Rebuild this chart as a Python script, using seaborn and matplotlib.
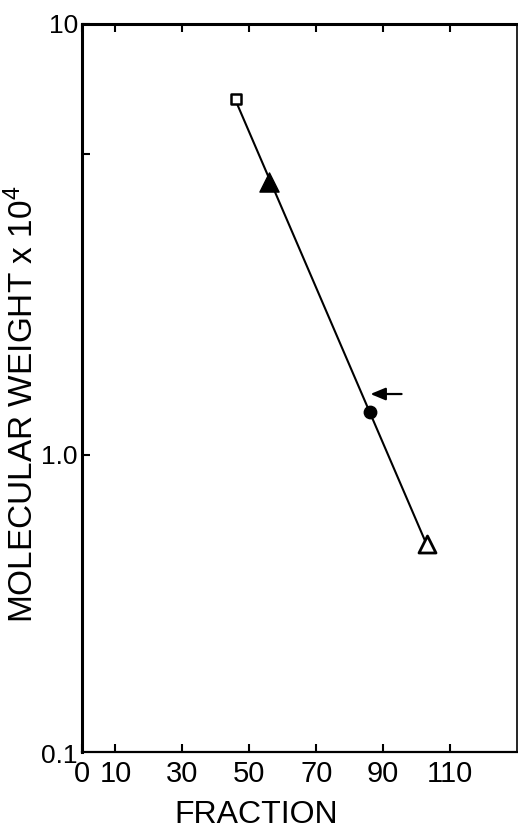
import numpy as np
import pandas as pd
import matplotlib
matplotlib.use("Agg")
import matplotlib.pyplot as plt
import seaborn as sns

# Elution fraction vs. molecular weight of the marker proteins
fraction = [46, 56, 86, 103]
mol_weight = [6.7, 4.3, 1.26, 0.62]          # x 10^4
marker_kind = ["open square", "filled triangle", "filled circle", "open triangle"]

x_ticks = [0, 10, 30, 50, 70, 90, 110]
y_ticks = [10, 5, 1.0]
y_tick_labels = ["10", "", "1.0"]

arrow_at = (86.2, 1.385)     # points to the unknown's elution position
arrow_from = (95.5, 1.385)

sns.set_style("ticks")
plt.rcParams["font.family"] = ["Liberation Sans", "DejaVu Sans"]
plt.rcParams["mathtext.fontset"] = "custom"
plt.rcParams["mathtext.rm"] = "Liberation Sans"
plt.rcParams["mathtext.it"] = "Liberation Sans"
for key in ["text.color", "axes.labelcolor", "xtick.color", "ytick.color",
            "xtick.labelcolor", "ytick.labelcolor"]:
    plt.rcParams[key] = "black"

df = pd.DataFrame({"fraction": fraction, "mw": mol_weight, "kind": marker_kind})

fig = plt.figure(figsize=(5.18, 8.30), dpi=100)
ax = fig.add_axes([0.1583, 0.0940, 0.8398, 0.8771])
ax.set_yscale("log")

# least-squares calibration line in log space
slope, intercept = np.polyfit(df["fraction"], np.log10(df["mw"]), 1)
xl = np.array([min(fraction), max(fraction)])
line_df = pd.DataFrame({"fraction": xl, "mw": 10 ** (intercept + slope * xl)})
sns.lineplot(data=line_df, x="fraction", y="mw", ax=ax, color="black",
             linewidth=1.5, zorder=2)

styles = {
    "open square": dict(marker="s", s=55, facecolor="white", linewidth=1.8),
    "filled triangle": dict(marker="^", s=190, facecolor="black", linewidth=1.0),
    "filled circle": dict(marker="o", s=80, facecolor="black", linewidth=1.0),
    "open triangle": dict(marker="^", s=150, facecolor="white", linewidth=2.0),
}
for kind, st in styles.items():
    sub = df[df["kind"] == kind]
    sns.scatterplot(data=sub, x="fraction", y="mw", ax=ax, marker=st["marker"],
                    s=st["s"], color=st["facecolor"], edgecolor="black",
                    linewidth=st["linewidth"], zorder=3, legend=False)

ax.annotate("", xy=arrow_at, xytext=arrow_from,
            arrowprops=dict(arrowstyle="-|>,head_length=0.6,head_width=0.25",
                            mutation_scale=15, lw=1.6, color="black",
                            shrinkA=0, shrinkB=0))

ax.set_xlim(0, 130)
ax.set_ylim(0.2046, 10)

ax.set_xticks(x_ticks)
ax.set_xticklabels([str(t) for t in x_ticks])
ax.set_yticks(y_ticks)
ax.set_yticklabels(y_tick_labels)
ax.yaxis.set_minor_locator(matplotlib.ticker.NullLocator())

ax.tick_params(axis="x", which="major", direction="in", length=6, width=1.5,
               top=True, bottom=True, pad=6, labelsize=21)
ax.tick_params(axis="y", which="major", direction="in", length=6, width=1.5,
               left=True, right=False, pad=3, labelsize=19)

ax.text(-0.010, -0.005, "0.1", transform=ax.transAxes, ha="right", va="center",
        fontsize=19)

ax.set_xlabel("FRACTION", fontsize=23)
ax.set_ylabel("MOLECULAR WEIGHT x 10$^{4}$", fontsize=24)
ax.xaxis.set_label_coords(0.40, -0.066)
ax.yaxis.set_label_coords(-0.097, 0.477)

ax.spines["left"].set_linewidth(2.2)
ax.spines["top"].set_linewidth(2.2)
ax.spines["bottom"].set_linewidth(1.6)
ax.spines["right"].set_linewidth(1.2)
for sp in ax.spines.values():
    sp.set_color("black")

fig.savefig("out.png", dpi=100)
